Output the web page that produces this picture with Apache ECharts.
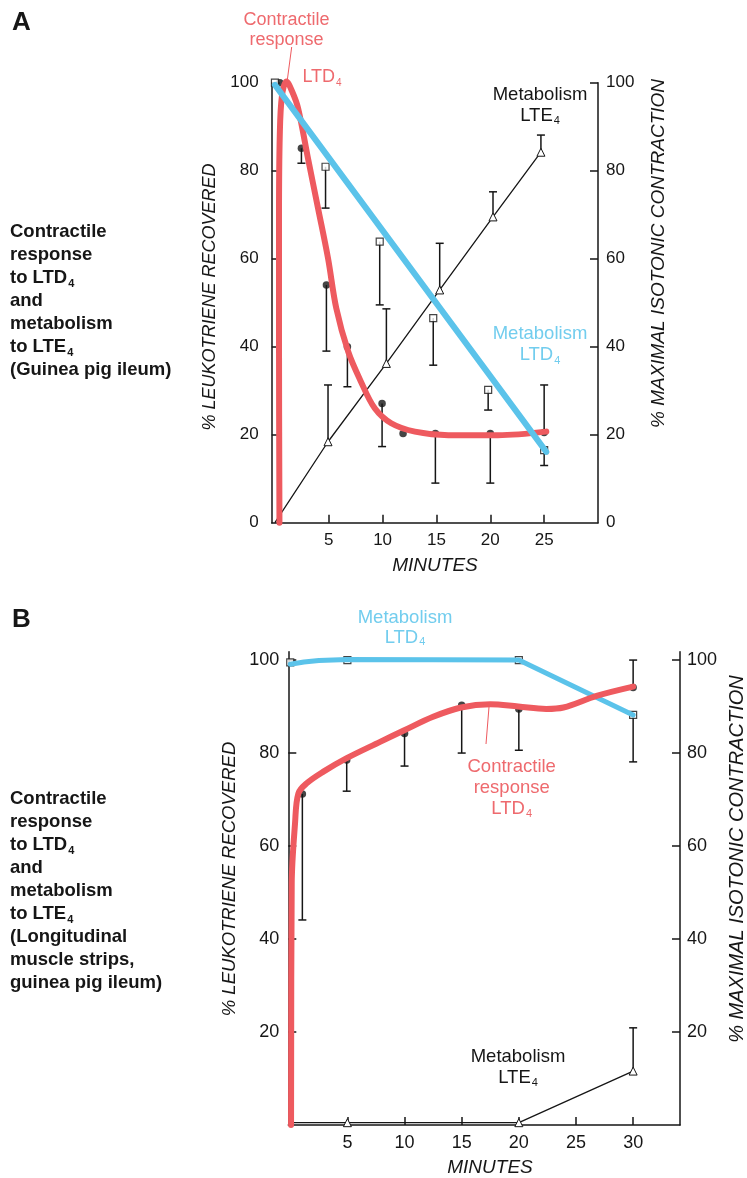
<!DOCTYPE html>
<html>
<head>
<meta charset="utf-8">
<script src="https://cdn.jsdelivr.net/npm/echarts@6/dist/echarts.min.js"></script>
<style>
  html, body { margin: 0; padding: 0; background: #fff; }
  #main { width: 747px; height: 1178px; }
</style>
</head>
<body>
<div id="main"></div>
<script>
const FONT = "'Liberation Sans', Arial, sans-serif";
const RED = '#ee5a5f';
const RED_TXT = '#ee6a6e';
const BLUE = '#5bc3ea';
const BLUE_TXT = '#72cdee';
const INK = '#161616';

// ---- panel A (guinea pig ileum) ----
const xTicksA = [5, 10, 15, 20, 25];
const yLabelsA = [0, 20, 40, 60, 80, 100];
const yTicksA = [20, 40, 60, 80, 100];

// contractile response LTD4 (fitted red curve, minutes / %)
const contractCurveA = [[0.42, 0], [0.38, 40], [0.38, 70], [0.45, 88], [0.65, 97], [1.07, 100.3], [1.6, 98],
  [2.15, 94.2], [3.07, 82.8], [4.0, 71.5], [4.93, 60.1], [5.7, 48.7], [6.8, 38.9], [8.0, 32],
  [9.27, 26], [10.8, 22.6], [13, 20.7], [16.1, 19.9], [20.7, 19.9], [25.2, 20.7]];
const contractDotsA = [[0.45, 100], [2.46, 85.1], [4.78, 54], [6.73, 40], [9.95, 27.1], [11.9, 20.3],
  [14.9, 20.3], [20, 20.3], [25, 20.5]];
const contractErrA = [[2.46, 85.1, 81.7], [4.78, 54, 39], [6.73, 40, 30.9], [9.95, 27.1, 17.3],
  [14.9, 20.3, 9], [20, 20.3, 9], [25, 20.5, 31.3]];

// metabolism LTD4 (squares + blue line)
const ltd4PointsA = [[0, 100], [4.7, 80.9], [9.73, 63.9], [14.7, 46.5], [19.8, 30.2], [25, 16.5]];
const ltd4ErrA = [[4.7, 80.9, 71.5], [9.73, 63.9, 49.5], [14.7, 46.5, 35.8], [19.8, 30.2, 25.6], [25, 16.5, 13]];
const ltd4LineA = [[0, 99.5], [25.2, 16.1]];

// metabolism LTE4 (triangles, thin black line)
const lte4A = [[0, 0], [4.93, 18.4], [10.35, 36.2], [15.3, 52.9], [20.25, 69.5], [24.7, 84.2]];
const lte4ErrA = [[4.93, 18.4, 31.3], [10.35, 36.2, 48.6], [15.3, 52.9, 63.5], [20.25, 69.5, 75.2], [24.7, 84.2, 88.1]];

// ---- panel B (longitudinal muscle strips) ----
const xTicksB = [5, 10, 15, 20, 25, 30];
const yTicksB = [20, 40, 60, 80, 100];

const contractCurveB = [[0.07, 0], [0.13, 52], [0.42, 64.9], [0.71, 71.3], [1.44, 73.5], [2.9, 76],
  [4.94, 78.9], [7.86, 82.4], [9.98, 84.9], [12.5, 87.8], [14.94, 89.8], [17.5, 90.5], [19.96, 90],
  [22.4, 89.5], [23.9, 89.8], [26.8, 92.3], [30, 94.3]];
const contractDotsB = [[1.06, 71.2], [4.94, 78.5], [10, 84.2], [15, 90.3], [20, 89.5], [30, 94.1]];
const contractErrB = [[1.06, 71.2, 44.1], [4.94, 78.5, 71.8], [10, 84.2, 77.2], [15, 90.3, 80],
  [20, 89.3, 80.6], [30, 94.1, 100]];

const ltd4PointsB = [[0, 99.5], [5, 100], [20, 100], [30, 88.2]];
const ltd4ErrB = [[30, 88.2, 78.1]];
const ltd4LineB = [[0, 99.1], [1.2, 99.6], [2.5, 99.9], [5, 100.1], [20, 100], [30, 88.2]];

const lte4B = [[0, 0.5], [5, 0.5], [20, 0.5], [30, 11.6]];
const lte4ErrB = [[30, 11.6, 20.9]];

const chart = echarts.init(document.getElementById('main'));

function xAxis(gi, min, max, ticks, fs) {
  return {
    type: 'value', gridIndex: gi, min: min, max: max,
    axisLine: { onZero: false, lineStyle: { color: INK, width: 1.5 } },
    axisTick: { inside: true, length: 8, customValues: ticks, lineStyle: { color: INK, width: 1.5 } },
    axisLabel: { customValues: ticks, margin: 9, fontSize: fs, color: INK, fontFamily: FONT },
    splitLine: { show: false }
  };
}

function yAxis(gi, pos, max, labels, ticks, fs, margin) {
  return {
    type: 'value', gridIndex: gi, position: pos, min: 0, max: max,
    axisLine: { show: true, onZero: false, lineStyle: { color: INK, width: 1.5 } },
    axisTick: { show: true, inside: true, length: 8, customValues: ticks, lineStyle: { color: INK, width: 1.5 } },
    axisLabel: { customValues: labels, margin: margin, fontSize: fs, color: INK, fontFamily: FONT },
    splitLine: { show: false }
  };
}

function errBars(data, xi, yi) {
  return {
    type: 'custom', xAxisIndex: xi, yAxisIndex: yi, data: data, z: 2, silent: true, clip: false,
    encode: { x: 0, y: [1, 2] },
    renderItem: function (params, api) {
      const p1 = api.coord([api.value(0), api.value(1)]);
      const p2 = api.coord([api.value(0), api.value(2)]);
      const st = { stroke: INK, lineWidth: 1.5 };
      return {
        type: 'group',
        children: [
          { type: 'line', shape: { x1: p1[0], y1: p1[1], x2: p2[0], y2: p2[1] }, style: st },
          { type: 'line', shape: { x1: p2[0] - 4, y1: p2[1], x2: p2[0] + 4, y2: p2[1] }, style: st }
        ]
      };
    }
  };
}

function lte4Series(data, xi, yi) {
  return {
    type: 'line', xAxisIndex: xi, yAxisIndex: yi, z: 3, clip: false,
    data: data.map(function (p, i) { return i === 0 ? { value: p, symbol: 'none' } : p; }),
    symbol: 'triangle', symbolSize: 8,
    itemStyle: { color: '#fff', borderColor: INK, borderWidth: 1 },
    lineStyle: { color: INK, width: 1.3 }
  };
}

function dots(data, xi, yi) {
  return {
    type: 'scatter', xAxisIndex: xi, yAxisIndex: yi, z: 3, data: data,
    symbol: 'circle', symbolSize: 7.5, itemStyle: { color: INK }
  };
}

function squares(data, xi, yi) {
  return {
    type: 'scatter', xAxisIndex: xi, yAxisIndex: yi, z: 3, data: data, clip: false,
    symbol: 'rect', symbolSize: 7, itemStyle: { color: '#fff', borderColor: INK, borderWidth: 1.2 }
  };
}

function thick(data, xi, yi, color, width, smooth, z) {
  return {
    type: 'line', xAxisIndex: xi, yAxisIndex: yi, z: z, data: data, clip: false,
    smooth: smooth, symbol: 'none',
    lineStyle: { color: color, width: width, cap: 'round', join: 'round' }
  };
}

function sub(s) { return s.replace(/_(\d)/g, '{s|$1}'); }

function txt(x, y, text, o) {
  const weight = o.bold ? 'bold' : 'normal';
  const style = o.italic ? 'italic' : 'normal';
  return {
    type: 'text', x: x, y: y, rotation: o.rot || 0, silent: true,
    style: {
      text: sub(text), fill: o.color || INK, fontSize: o.size, fontFamily: FONT,
      fontWeight: weight, fontStyle: style, lineHeight: o.lh || o.size + 2,
      align: o.align || 'center', verticalAlign: o.va || 'top',
      rich: {
        s: { fontSize: o.sub || Math.round(o.size * 0.58), fontFamily: FONT, fontWeight: weight,
             fill: o.color || INK, verticalAlign: 'bottom', padding: [0, 0, 0, 1] }
      }
    }
  };
}

function leader(x1, y1, x2, y2, color) {
  return { type: 'line', silent: true, shape: { x1: x1, y1: y1, x2: x2, y2: y2 }, style: { stroke: color, lineWidth: 1 } };
}

const option = {
  animation: false,
  backgroundColor: '#fff',
  grid: [
    { left: 271.7, top: 82.7, width: 326.3, height: 440 },
    { left: 288.3, top: 651.7, width: 391.7, height: 473.3 }
  ],
  xAxis: [
    xAxis(0, -0.3, 30, xTicksA, 17),
    xAxis(1, -0.17, 34.1, xTicksB, 18)
  ],
  yAxis: [
    yAxis(0, 'left', 100, yLabelsA, yTicksA, 17, 13),
    yAxis(0, 'right', 100, yLabelsA, yTicksA, 17, 8),
    yAxis(1, 'left', 101.8, yTicksB, yTicksB, 18, 9),
    yAxis(1, 'right', 101.8, yTicksB, yTicksB, 18, 7)
  ],
  series: [
    errBars(contractErrA, 0, 0),
    errBars(ltd4ErrA, 0, 0),
    errBars(lte4ErrA, 0, 0),
    lte4Series(lte4A, 0, 0),
    dots(contractDotsA, 0, 0),
    squares(ltd4PointsA, 0, 0),
    thick(contractCurveA, 0, 0, RED, 6, 0.35, 5),
    thick(ltd4LineA, 0, 0, BLUE, 6, false, 6),

    errBars(contractErrB, 1, 2),
    errBars(ltd4ErrB, 1, 2),
    errBars(lte4ErrB, 1, 2),
    lte4Series(lte4B, 1, 2),
    dots(contractDotsB, 1, 2),
    squares(ltd4PointsB, 1, 2),
    thick(ltd4LineB, 1, 2, BLUE, 5, false, 5),
    thick(contractCurveB, 1, 2, RED, 6, 0.35, 6)
  ],
  graphic: [
    // panel letters
    txt(12, 23, 'A', { size: 26, bold: true, align: 'left', va: 'middle' }),
    txt(12, 620, 'B', { size: 26, bold: true, align: 'left', va: 'middle' }),

    // side descriptions
    txt(10, 220.2, 'Contractile\nresponse\nto LTD_4\nand\nmetabolism\nto LTE_4\n(Guinea pig ileum)',
      { size: 18.5, bold: true, align: 'left', lh: 23, sub: 11 }),
    txt(10, 787.8, 'Contractile\nresponse\nto LTD_4\nand\nmetabolism\nto LTE_4\n(Longitudinal\nmuscle strips,\nguinea pig ileum)',
      { size: 18.5, bold: true, align: 'left', lh: 23, sub: 11 }),

    // axis titles A
    txt(210, 297, '% LEUKOTRIENE RECOVERED', { size: 18, italic: true, va: 'middle', rot: Math.PI / 2 }),
    txt(658.5, 253.5, '% MAXIMAL ISOTONIC CONTRACTION', { size: 19, italic: true, va: 'middle', rot: Math.PI / 2 }),
    txt(435, 566, 'MINUTES', { size: 19, italic: true, va: 'middle' }),

    // axis titles B
    txt(230, 879, '% LEUKOTRIENE RECOVERED', { size: 18.5, italic: true, va: 'middle', rot: Math.PI / 2 }),
    txt(737.5, 859, '% MAXIMAL ISOTONIC CONTRACTION', { size: 20, italic: true, va: 'middle', rot: Math.PI / 2 }),
    txt(490, 1168, 'MINUTES', { size: 19, italic: true, va: 'middle' }),

    // curve labels A
    txt(286.5, 10, 'Contractile\nresponse', { size: 18, color: RED_TXT, lh: 20 }),
    leader(291.7, 47, 287.3, 80, RED),
    txt(322, 66, 'LTD_4', { size: 18, color: RED_TXT, lh: 22 }),
    txt(540, 84, 'Metabolism\nLTE_4', { size: 18.5, lh: 21 }),
    txt(540, 323, 'Metabolism\nLTD_4', { size: 18.5, color: BLUE_TXT, lh: 21.5 }),

    // curve labels B
    txt(405, 607.7, 'Metabolism\nLTD_4', { size: 18.5, color: BLUE_TXT, lh: 20 }),
    txt(511.7, 756.2, 'Contractile\nresponse\nLTD_4', { size: 18.5, color: RED_TXT, lh: 21 }),
    leader(486, 744, 489.3, 703.3, RED),
    txt(518, 1046.2, 'Metabolism\nLTE_4', { size: 18.5, lh: 21 })
  ]
};

chart.setOption(option);
</script>
</body>
</html>
